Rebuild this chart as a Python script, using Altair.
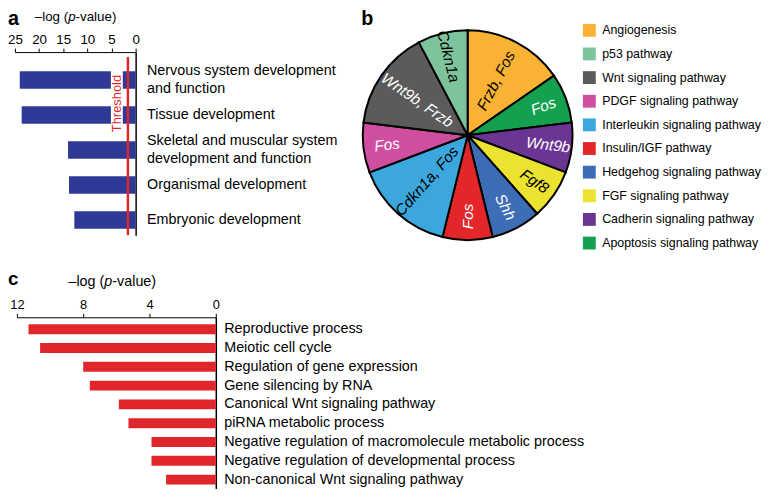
import altair as alt
import pandas as pd

FONT = "Liberation Sans"
W, H = 762, 483

# ---------------- Panel a data ----------------
a_terms = [
    "Nervous system development|and function",
    "Tissue development",
    "Skeletal and muscular system|development and function",
    "Organismal development",
    "Embryonic development",
]
a_values = [24.0, 23.6, 14.0, 13.8, 12.7]
a_threshold = [1.6]
a_ticks = [0, 5, 10, 15, 20, 25]

# ---------------- Panel b data ----------------
b_pathways = [
    "Angiogenesis",
    "Apoptosis signaling pathway",
    "Cadherin signaling pathway",
    "FGF signaling pathway",
    "Hedgehog signaling pathway",
    "Insulin/IGF pathway",
    "Interleukin signaling pathway",
    "PDGF signaling pathway",
    "Wnt signaling pathway",
    "p53 pathway",
]
b_genes = ["Frzb, Fos", "Fos", "Wnt9b", "Fgf8", "Shh", "Fos",
           "Cdkn1a, Fos", "Fos", "Wnt9b, Frzb", "Cdkn1a"]
b_counts = [2, 1, 1, 1, 1, 1, 2, 1, 2, 1]
legend_order = [
    "Angiogenesis",
    "p53 pathway",
    "Wnt signaling pathway",
    "PDGF signaling pathway",
    "Interleukin signaling pathway",
    "Insulin/IGF pathway",
    "Hedgehog signaling pathway",
    "FGF signaling pathway",
    "Cadherin signaling pathway",
    "Apoptosis signaling pathway",
]
legend_colors = ["#f9b233", "#7dc49c", "#5b5b5c", "#cf4e9f", "#3ba7dc",
                 "#e3262a", "#3d6db5", "#ebe32f", "#6b3594", "#13a14f"]
dark_text = ["Angiogenesis", "p53 pathway", "FGF signaling pathway",
             "Interleukin signaling pathway"]

# ---------------- Panel c data ----------------
c_terms = [
    "Reproductive process",
    "Meiotic cell cycle",
    "Regulation of gene expression",
    "Gene silencing by RNA",
    "Canonical Wnt signaling pathway",
    "piRNA metabolic process",
    "Negative regulation of macromolecule metabolic process",
    "Negative regulation of developmental process",
    "Non-canonical Wnt signaling pathway",
]
c_values = [11.3, 10.6, 8.0, 7.6, 5.85, 5.27, 3.88, 3.88, 3.0]
c_ticks = [0, 4, 8, 12]

BLUE = "#2f3a97"
RED = "#e1262b"


def note(txt, x, y, size, weight="normal", style="normal", align="left",
         baseline="middle", color="black", angle=0):
    return alt.Chart(alt.Data(values=[{}])).mark_text(
        text=txt, fontSize=size, fontWeight=weight, fontStyle=style,
        align=align, baseline=baseline, color=color, angle=angle, font=FONT
    ).encode(x=alt.value(x), y=alt.value(y))


# ---------------- Panel a ----------------
df_a = pd.DataFrame({"term": a_terms, "value": a_values})
xa = alt.Scale(domain=[0, 25], range=[129, 7], nice=False)
ya = alt.Scale(domain=a_terms, range=[42, 227], paddingInner=0.5,
               paddingOuter=0.363, align=0.75)
axis_xa = alt.Axis(
    orient="top", values=a_ticks, offset=-42, grid=False, tickSize=4,
    labelPadding=2, labelFontSize=13.5, labelColor="black",
    domainColor="black", tickColor="black", title=None, labelFlush=False)

bars_a = alt.Chart(df_a).mark_bar(color=BLUE).encode(
    x=alt.X("value:Q", scale=xa, axis=axis_xa),
    y=alt.Y("term:N", scale=ya, axis=alt.Axis(
        orient="right", offset=129 - W, ticks=False, domainColor="black",
        domainWidth=1.5, labelPadding=11, labelFontSize=14.5,
        labelLineHeight=18, labelExpr="split(datum.value, '|')",
        labelOffset={"condition": {"test": "indexof(datum.value, '|') >= 0",
                                   "value": -9}, "value": 0},
        labelLimit=600, labelOverlap=False, labelColor="black", title=None,
        labelAlign="left", labelBaseline="middle")),
)
gap_a = alt.Chart(alt.Data(values=[{}])).mark_rect(color="white").encode(
    x=alt.value(104), x2=alt.value(116), y=alt.value(58), y2=alt.value(118))
rule_a = alt.Chart(pd.DataFrame({"value": a_threshold})).mark_rule(
    color=RED, strokeWidth=2.5).encode(
    x=alt.X("value:Q", scale=xa, axis=axis_xa),
    y=alt.value(47), y2=alt.value(227))
thr_text = note("Threshold", 110, 94, 13, color=RED, angle=270, align="center")

panel_a = alt.layer(bars_a, gap_a, rule_a, thr_text)

# ---------------- Panel b ----------------
df_b = pd.DataFrame({"pathway": b_pathways, "genes": b_genes,
                     "n": b_counts, "idx": list(range(len(b_pathways)))})
color_scale = alt.Scale(domain=legend_order, range=legend_colors)
CX, CY, R = 464.5, 126, 106

arcs = alt.Chart(df_b).mark_arc(outerRadius=R, stroke="black",
                                strokeWidth=2).encode(
    theta=alt.Theta("n:Q", stack=True), order=alt.Order("idx:Q"),
    color=alt.Color("pathway:N", scale=color_scale, legend=None),
    x=alt.value(CX), y=alt.value(CY))
dark_list = "[" + ",".join("'%s'" % d for d in dark_text) + "]"
texts = alt.Chart(df_b).transform_joinaggregate(total="sum(n)").transform_window(
    cum="sum(n)", sort=[alt.SortField("idx", order="ascending")]
).transform_calculate(
    mid="(datum.cum - datum.n / 2) / datum.total * 360"
).transform_calculate(
    midrad="datum.mid * PI / 180",
    rot="((datum.mid < 180 ? datum.mid - 90 : datum.mid - 270) + 360) % 360",
    rad="datum.n > 1 ? 62 : 82",
    tc="indexof(" + dark_list + ", datum.pathway) >= 0 ? 'black' : 'white'",
).mark_text(fontStyle="italic", fontSize=15.5, align="center",
            baseline="middle", font=FONT).encode(
    text="genes:N",
    theta=alt.Theta("midrad:Q", scale=None, stack=None),
    radius=alt.Radius("rad:Q", scale=None),
    angle=alt.Angle("rot:Q", scale=None),
    fill=alt.Fill("tc:N", scale=None),
    x=alt.value(CX), y=alt.value(CY))

df_leg = pd.DataFrame({"pathway": legend_order})
ly = alt.Scale(domain=legend_order, range=[20, 235], padding=0)
leg_sq = alt.Chart(df_leg).mark_square(size=169, opacity=1).encode(
    y=alt.Y("pathway:N", scale=ly, axis=None),
    x=alt.value(587.5),
    color=alt.Color("pathway:N", scale=color_scale, legend=None))
leg_tx = alt.Chart(df_leg).mark_text(align="left", baseline="middle",
                                      fontSize=12.5, font=FONT,
                                      color="black").encode(
    y=alt.Y("pathway:N", scale=ly, axis=None),
    x=alt.value(600.5), text="pathway:N")

panel_b = alt.layer(arcs, texts, leg_sq, leg_tx)

# ---------------- Panel c ----------------
df_c = pd.DataFrame({"term": c_terms, "value": c_values})
xc = alt.Scale(domain=[0, 12], range=[210, 9], nice=False)
yc = alt.Scale(domain=c_terms, range=[310, 483], paddingInner=0.474,
               paddingOuter=0.29, align=0.64)
bars_c = alt.Chart(df_c).mark_bar(color=RED).encode(
    x=alt.X("value:Q", scale=xc, axis=alt.Axis(
        orient="top", values=c_ticks, offset=-310, grid=False, tickSize=4,
        labelPadding=2, labelFontSize=13, labelColor="black",
        domainColor="black", tickColor="black", title=None, labelFlush=False)),
    y=alt.Y("term:N", scale=yc, axis=alt.Axis(
        orient="right", offset=210 - W, ticks=False, domainColor="black",
        domainWidth=1.5, labelPadding=8, labelFontSize=14.5,
        labelLimit=600, labelOverlap=False, labelColor="black", title=None,
        labelAlign="left", labelBaseline="middle")),
)
panel_c = alt.layer(bars_c)

# ---------------- Annotations ----------------
notes = [
    note("a", 0, 15, 20, weight="bold", baseline="alphabetic"),
    note("b", 357, 15, 20, weight="bold", baseline="alphabetic"),
    note("c", 0, 277, 19, weight="bold", baseline="alphabetic"),
    note("\u2013log (", 60.8, 7, 13.5, align="right"),
    note("p", 60.8, 7, 13.5, style="italic"),
    note("-value)", 68.3, 7, 13.5),
    note("\u2013log (", 97.3, 274, 14.5, align="right"),
    note("p", 97.3, 274, 14.5, style="italic"),
    note("-value)", 105.4, 274, 14.5),
]

chart = alt.layer(panel_a, panel_b, panel_c, *notes).resolve_scale(
    x="independent", y="independent"
).resolve_axis(x="independent", y="independent").properties(
    width=W, height=H, padding=0,
    autosize=alt.AutoSizeParams(type="none"),
).configure(font=FONT).configure_view(stroke=None).configure_axis(
    labelFont=FONT)

chart.save("out.html", embed_options={"renderer": "svg", "actions": False})
